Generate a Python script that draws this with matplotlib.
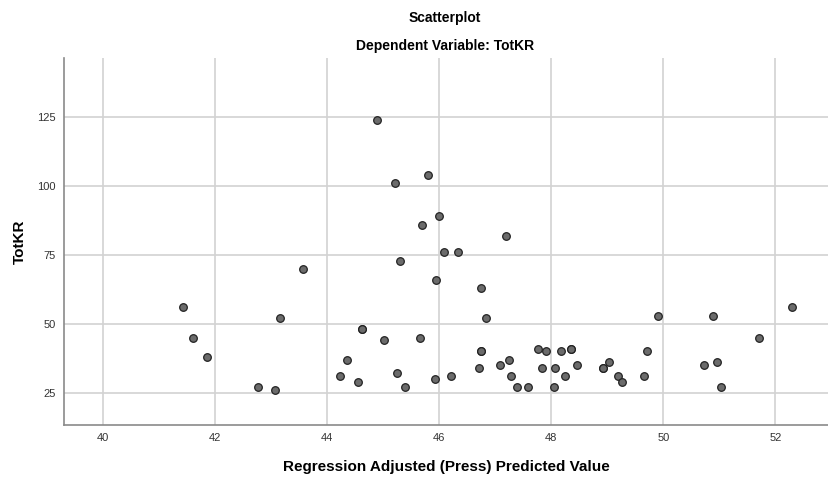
import numpy as np
from matplotlib import pyplot as plt

plt.rcParams['font.family'] = ['Liberation Sans', 'DejaVu Sans']

# Valores (Predicted Value, TotKR)
pred = [44.89, 45.80, 45.21, 45.99, 45.69, 46.08, 46.33, 45.29, 45.95, 43.56,
        41.43, 43.16, 41.61, 41.85, 42.76, 43.07, 44.62, 44.62, 45.01, 45.66,
        44.36, 44.22, 44.54, 45.24, 45.39, 45.93, 46.21, 47.20, 46.75, 46.84,
        46.74, 46.74, 46.71, 47.08, 47.25, 47.28, 47.39, 47.58, 47.76, 47.90,
        47.83, 48.07, 48.04, 48.18, 48.36, 48.36, 48.25, 48.46, 48.93, 48.93,
        49.03, 49.19, 49.27, 49.66, 49.71, 49.91, 50.73, 50.89, 50.95, 51.03,
        51.71, 52.30]
totkr = [124, 104, 101, 89, 86, 76, 76, 73, 66, 70,
         56, 52, 45, 38, 27, 26, 48, 48, 44, 45,
         37, 31, 29, 32, 27, 30, 31, 82, 63, 52,
         40, 40, 34, 35, 37, 31, 27, 27, 41, 40,
         34, 34, 27, 40, 41, 41, 31, 35, 34, 34,
         36, 31, 29, 31, 40, 53, 35, 53, 36, 27,
         45, 56]

xticks = [40, 42, 44, 46, 48, 50, 52]
yticks = [25, 50, 75, 100, 125]

fig = plt.figure(figsize=(8.29, 4.79), dpi=100)
ax = fig.add_axes([0.0772, 0.1127, 0.9216, 0.7662])

ax.scatter(pred, totkr, s=30, facecolor='#6b6b6b', edgecolor='#222222',
           linewidths=0.9, zorder=3)

ax.set_xlim(39.3, 52.94)
ax.set_ylim(13.3, 146.5)
ax.set_xticks(xticks)
ax.set_yticks(yticks)
ax.grid(True, color='#d2d2d2', linewidth=1.2, zorder=0)
ax.set_axisbelow(True)
ax.tick_params(length=0, labelsize=8, colors='#333333', pad=6)
for s in ['top', 'right']:
    ax.spines[s].set_visible(False)
for s in ['left', 'bottom']:
    ax.spines[s].set_color('#8a8a8a')
    ax.spines[s].set_linewidth(1.2)

ax.set_xlabel("Regression Adjusted (Press) Predicted Value", fontsize=11,
              fontweight='bold', labelpad=12)
ax.set_ylabel("TotKR", fontsize=11, fontweight='bold', labelpad=7)

fig.text(0.537, 0.962, "Scatterplot", ha='center', va='center', fontsize=10,
         fontweight='bold')
fig.text(0.537, 0.905, "Dependent Variable: TotKR", ha='center', va='center',
         fontsize=10, fontweight='bold')

fig.savefig("out.png", dpi=100)
